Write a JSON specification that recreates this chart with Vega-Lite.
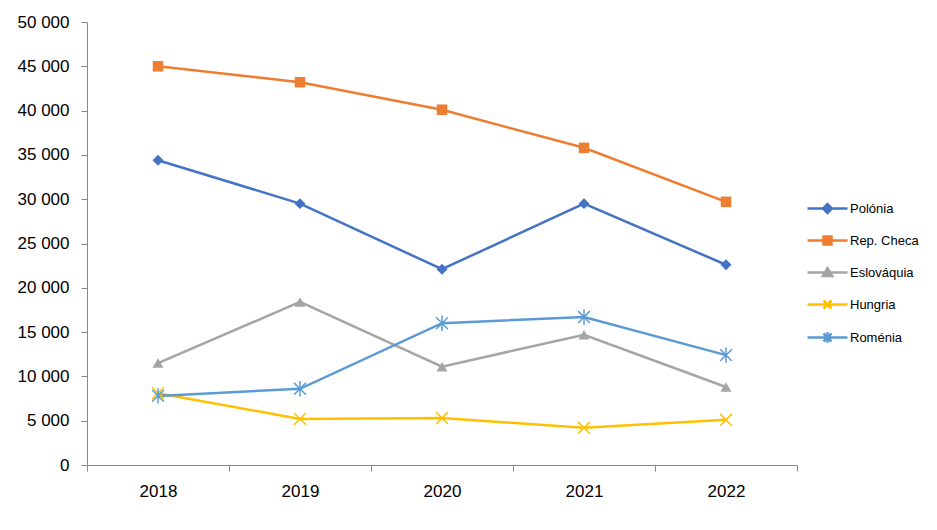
{
  "$schema": "https://vega.github.io/schema/vega-lite/v6.json",
  "width": 710,
  "height": 443,
  "autosize": {"type": "none"},
  "padding": {"left": 87, "top": 22, "right": 140, "bottom": 65},
  "background": "white",
  "config": {
    "view": {"stroke": null},
    "font": "Liberation Sans"
  },
  "data": {
    "values": [
      {"year": "2018", "country": "Polónia", "value": 34400},
      {"year": "2019", "country": "Polónia", "value": 29500},
      {"year": "2020", "country": "Polónia", "value": 22100},
      {"year": "2021", "country": "Polónia", "value": 29500},
      {"year": "2022", "country": "Polónia", "value": 22600},
      {"year": "2018", "country": "Rep. Checa", "value": 45000},
      {"year": "2019", "country": "Rep. Checa", "value": 43200},
      {"year": "2020", "country": "Rep. Checa", "value": 40100},
      {"year": "2021", "country": "Rep. Checa", "value": 35800},
      {"year": "2022", "country": "Rep. Checa", "value": 29700},
      {"year": "2018", "country": "Eslováquia", "value": 11500},
      {"year": "2019", "country": "Eslováquia", "value": 18400},
      {"year": "2020", "country": "Eslováquia", "value": 11100},
      {"year": "2021", "country": "Eslováquia", "value": 14700},
      {"year": "2022", "country": "Eslováquia", "value": 8800},
      {"year": "2018", "country": "Hungria", "value": 8100},
      {"year": "2019", "country": "Hungria", "value": 5200},
      {"year": "2020", "country": "Hungria", "value": 5300},
      {"year": "2021", "country": "Hungria", "value": 4200},
      {"year": "2022", "country": "Hungria", "value": 5100},
      {"year": "2018", "country": "Roménia", "value": 7800},
      {"year": "2019", "country": "Roménia", "value": 8600},
      {"year": "2020", "country": "Roménia", "value": 16000},
      {"year": "2021", "country": "Roménia", "value": 16700},
      {"year": "2022", "country": "Roménia", "value": 12400}
    ]
  },
  "encoding": {
    "x": {
      "field": "year",
      "type": "ordinal",
      "scale": {"type": "band", "paddingInner": 0, "paddingOuter": 0},
      "axis": {
        "title": null,
        "labelAngle": 0,
        "labelFontSize": 17,
        "labelColor": "#000000",
        "labelPadding": 12,
        "domainColor": "#898989",
        "domainWidth": 1,
        "tickColor": "#898989",
        "tickSize": 6,
        "tickBand": "extent",
        "grid": false
      }
    },
    "y": {
      "field": "value",
      "type": "quantitative",
      "scale": {"domain": [0, 50000], "nice": false},
      "axis": {
        "title": null,
        "values": [0, 5000, 10000, 15000, 20000, 25000, 30000, 35000, 40000, 45000, 50000],
        "labelExpr": "replace(format(datum.value, ','), /,/g, ' ')",
        "labelFontSize": 17,
        "labelColor": "#000000",
        "labelPadding": 12,
        "domainColor": "#898989",
        "tickColor": "#898989",
        "tickSize": 6,
        "grid": false
      }
    },
    "color": {
      "field": "country",
      "type": "nominal",
      "sort": ["Polónia", "Rep. Checa", "Eslováquia", "Hungria", "Roménia"],
      "scale": {
        "domain": ["Polónia", "Rep. Checa", "Eslováquia", "Hungria", "Roménia"],
        "range": ["#4472C4", "#ED7D31", "#A5A5A5", "#FFC000", "#5B9BD5"]
      },
      "legend": {
        "title": null,
        "orient": "none",
        "legendX": 731,
        "legendY": 177,
        "padding": 0,
        "symbolSize": 256,
        "symbolOpacity": 1,
        "symbolStrokeWidth": 2.5,
        "labelOffset": 13,
        "rowPadding": 13,
        "labelFontSize": 13,
        "labelColor": "#000000",
        "encode": {
          "symbols": {
            "update": {
              "opacity": {"value": 1},
              "stroke": {"scale": "color", "field": "value"},
              "strokeWidth": {"value": 2.5}
            }
          }
        }
      }
    }
  },
  "layer": [
    {
      "mark": {"type": "line", "strokeWidth": 2.5}
    },
    {
      "transform": [{"filter": "datum.country === 'Polónia'"}],
      "mark": {"type": "point", "shape": "diamond", "filled": true, "size": 120, "strokeWidth": 1, "opacity": 1}
    },
    {
      "transform": [{"filter": "datum.country === 'Rep. Checa'"}],
      "mark": {"type": "point", "shape": "square", "filled": true, "size": 110, "strokeWidth": 1, "opacity": 1}
    },
    {
      "transform": [{"filter": "datum.country === 'Eslováquia'"}],
      "mark": {"type": "point", "shape": "triangle-up", "filled": true, "size": 120, "strokeWidth": 1, "opacity": 1}
    },
    {
      "transform": [{"filter": "datum.country === 'Hungria'"}],
      "mark": {"type": "point", "shape": "M-1,-1L1,1M-1,1L1,-1", "filled": false, "size": 140, "strokeWidth": 1.5, "opacity": 1}
    },
    {
      "transform": [{"filter": "datum.country === 'Roménia'"}],
      "mark": {"type": "point", "shape": "M-1,-1L1,1M-1,1L1,-1M0,-1.3L0,1.3", "filled": false, "size": 140, "strokeWidth": 1.5, "opacity": 1}
    },
    {
      "mark": {"type": "point", "filled": true, "opacity": 0},
      "encoding": {
        "shape": {
          "field": "country",
          "type": "nominal",
          "sort": ["Polónia", "Rep. Checa", "Eslováquia", "Hungria", "Roménia"],
          "scale": {
            "domain": ["Polónia", "Rep. Checa", "Eslováquia", "Hungria", "Roménia"],
            "range": [
              "M-2.5,0L2.5,0M0,-0.56L0.56,0L0,0.56L-0.56,0Z",
              "M-2.5,0L2.5,0M-0.5,-0.5L0.5,-0.5L0.5,0.5L-0.5,0.5Z",
              "M-2.5,0L2.5,0M0,-0.55L0.6,0.45L-0.6,0.45Z",
              "M-2.5,0L2.5,0M-0.5,-0.5L0.5,0.5M-0.5,0.5L0.5,-0.5",
              "M-2.5,0L2.5,0M-0.5,-0.5L0.5,0.5M-0.5,0.5L0.5,-0.5M0,-0.65L0,0.65"
            ]
          },
          "legend": {
            "title": null,
            "orient": "none",
            "legendX": 731,
            "legendY": 177,
            "padding": 0,
            "symbolSize": 256,
            "symbolOpacity": 1,
            "symbolStrokeWidth": 2.5,
            "labelOffset": 13,
            "rowPadding": 13,
            "labelFontSize": 13,
            "labelColor": "#000000"
          }
        }
      }
    }
  ]
}
